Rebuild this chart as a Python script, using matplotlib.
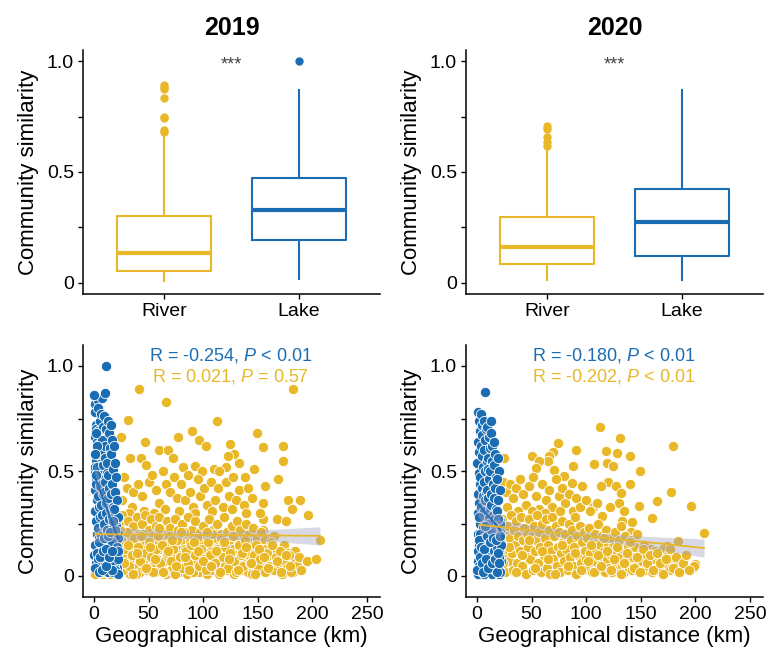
import numpy as np
import matplotlib
matplotlib.use("Agg")
import matplotlib.pyplot as plt

plt.rcParams['font.family'] = ['Liberation Sans', 'DejaVu Sans']
plt.rcParams['mathtext.fontset'] = 'custom'
plt.rcParams['mathtext.rm'] = 'Liberation Sans'
plt.rcParams['mathtext.it'] = 'Liberation Sans:italic'

BLUE = '#1B6DB3'
GOLD = '#E8B828'

years = ['2019', '2020']
groups = ['River', 'Lake']

# boxplot stats: (whislo, q1, med, q3, whishi)
river19_box = [0.01, 0.053, 0.135, 0.30, 0.676]
river19_out = [0.68, 0.69, 0.742, 0.75, 0.832, 0.875, 0.883, 0.893]
lake19_box = [0.018, 0.192, 0.33, 0.473, 0.868]
lake19_out = [1.0]
river20_box = [0.015, 0.087, 0.164, 0.297, 0.593]
river20_out = [0.616, 0.634, 0.656, 0.694, 0.706]
lake20_box = [0.015, 0.12, 0.276, 0.423, 0.871]
lake20_out = []

# scatter points, lake pairs (distance km, similarity)
lake19_x = [0.6, 1.2, 2.0, 0.8, 2.6, 1.5, 0.9, 2.3, 1.1, 2.8, 0.7, 1.9, 2.4, 1.3, 0.5, 2.1, 1.5, 2.5, 1.0, 1.7,
            3.4, 4.1, 5.2, 3.8, 4.7, 5.6, 3.2, 4.4, 5.9, 3.6, 4.9, 5.3, 3.9, 4.5, 5.7, 3.3, 4.2, 4.0,
            7.0, 6.4, 8.2, 7.5, 6.8, 8.7, 6.2, 7.8, 8.4, 6.6, 7.2, 8.9, 6.9, 7.6, 8.1, 6.3,
            11.0, 10.6, 9.4, 11.5, 10.1, 9.8, 11.8, 10.4, 9.2, 11.2, 10.8, 9.6, 11.6, 10.2, 9.9, 11.4, 10.7, 11.9,
            12.5, 13.8, 14.6, 12.2, 13.3, 14.1, 12.8, 14.9, 13.5, 12.4, 14.3, 13.0, 12.7, 14.7,
            15.4, 16.8, 15.9, 17.5, 16.2, 15.2, 17.1, 16.5, 17.8, 15.7, 16.9, 17.3, 16.0,
            18.4, 19.6, 20.5, 18.9, 21.3, 19.2, 20.1, 21.7, 18.6, 20.8, 19.9, 21.0, 20.3, 21.2, 19.4, 21.6,
            10.5, 12.0, 13.2, 14.4, 15.5, 16.3, 17.2, 17.9, 18.3, 19.0, 19.5, 20.4, 20.7, 21.4, 21.9, 22.2,
            21.8, 22.0, 16.4, 18.0, 0.4, 1.6, 3.0, 2.2, 1.2,
            1.4, 2.9, 4.6, 5.1, 6.0, 7.3, 8.5, 9.1, 10.9, 11.3, 12.9, 13.9, 15.1, 16.6, 17.6]
lake19_y = [0.82, 0.78, 0.72, 0.66, 0.60, 0.55, 0.50, 0.46, 0.41, 0.36, 0.31, 0.26, 0.20, 0.15, 0.10, 0.06, 0.70, 0.64, 0.52, 0.44,
            0.84, 0.80, 0.74, 0.69, 0.63, 0.57, 0.52, 0.47, 0.43, 0.38, 0.33, 0.28, 0.23, 0.18, 0.12, 0.08, 0.04, 0.58,
            0.85, 0.77, 0.71, 0.65, 0.58, 0.53, 0.48, 0.44, 0.39, 0.34, 0.29, 0.24, 0.19, 0.14, 0.09, 0.05,
            1.00, 0.87, 0.76, 0.70, 0.62, 0.56, 0.49, 0.45, 0.40, 0.35, 0.30, 0.25, 0.21, 0.16, 0.11, 0.07, 0.03, 0.02,
            0.74, 0.68, 0.61, 0.54, 0.48, 0.42, 0.37, 0.32, 0.27, 0.22, 0.17, 0.13, 0.08, 0.04,
            0.72, 0.65, 0.58, 0.51, 0.44, 0.39, 0.33, 0.28, 0.23, 0.18, 0.14, 0.10, 0.06,
            0.62, 0.54, 0.47, 0.40, 0.36, 0.30, 0.25, 0.20, 0.15, 0.11, 0.07, 0.04, 0.02, 0.09, 0.13, 0.18,
            0.06, 0.10, 0.02, 0.12, 0.05, 0.16, 0.02, 0.09, 0.05, 0.22, 0.03, 0.10, 0.14, 0.27, 0.08, 0.28,
            0.01, 0.12, 0.03, 0.32, 0.86, 0.68, 0.62, 0.48, 0.58,
            0.04, 0.11, 0.02, 0.16, 0.09, 0.03, 0.12, 0.18, 0.13, 0.05, 0.19, 0.09, 0.21, 0.12, 0.26]

# river pairs: sparse upper part, middle band, dense lower band
river19_x = [2, 5, 8, 11, 14, 17, 19, 4, 10, 16, 3, 7, 12, 15, 18, 6, 9, 13, 20, 1,
             41, 66, 182, 31, 113, 25, 47, 77, 90, 96, 103, 125, 149, 155, 173, 173, 128, 123, 133, 121,
             60, 68, 72, 43, 33, 48, 82, 93, 99, 110, 115, 138, 147, 157, 178, 189, 196, 181, 169, 168,
             176, 155, 155, 155, 152,
             28, 30, 36, 40, 44, 50, 53, 57, 60, 63, 66, 70, 73, 76, 80, 83, 86, 88, 91, 95,
             97, 101, 104, 107, 111, 114, 118, 121, 124, 127, 130, 133, 137, 141, 145, 35, 46, 55, 65, 78,
             93, 108, 126, 139, 26, 32,
             21, 22, 23, 24, 25, 26, 27, 28, 29, 30, 31, 32, 33, 34, 35, 36, 37, 38, 39, 40,
             41, 42, 43, 44, 45, 46, 47, 48, 49, 50, 51, 52, 53, 54, 55, 56, 57, 58, 59, 60,
             61, 62, 63, 64, 65, 66, 67, 68, 69, 70, 71, 72, 73, 74, 75, 76, 77, 78, 79, 80,
             81, 82, 83, 84, 85, 86, 87, 88, 89, 90, 91, 92, 93, 94, 95, 96, 97, 98, 99, 100,
             101, 102, 103, 104, 105, 106, 107, 108, 109, 110, 111, 112, 113, 114, 115, 116, 117, 118, 119, 120,
             121, 122, 123, 124, 125, 126, 127, 128, 129, 130, 131, 132, 133, 134, 135, 136, 137, 138, 139, 140,
             141, 142, 143, 144, 145, 146, 147, 148, 149, 150, 152, 153, 154, 156, 157, 158, 160,
             162, 163, 165, 167, 168, 170, 172, 174, 176, 178, 180, 182, 184, 186, 188, 190, 195, 203, 207,
             22.5, 24.5, 26.5, 28.5, 30.5, 32.5, 34.5, 36.5, 38.5, 40.5, 42.5, 44.5, 46.5, 48.5, 50.5, 52.5, 54.5, 56.5, 58.5, 60.5,
             62.5, 64.5, 66.5, 68.5, 70.5, 72.5, 74.5, 76.5, 78.5, 80.5, 82.5, 84.5, 86.5, 88.5, 90.5, 92.5, 94.5, 96.5, 98.5, 100.5,
             102.5, 104.5, 106.5, 108.5, 110.5, 112.5, 114.5, 116.5, 118.5, 120.5, 122.5, 124.5, 126.5, 128.5, 130.5, 132.5, 134.5, 136.5, 138.5, 140.5,
             142.5, 144.5, 146.5, 148.5, 150.5, 152.5, 154.5, 156.5, 158.5, 160.5, 162.5, 164.5, 166.5, 168.5, 170.5, 172.5, 174.5, 176.5, 178.5, 180.5,
             23.5, 27.5, 31.5, 35.5, 39.5, 43.5, 47.5, 51.5, 55.5, 59.5, 63.5, 67.5, 71.5, 75.5, 79.5, 83.5, 87.5, 91.5, 95.5, 99.5,
             103.5, 107.5, 111.5, 115.5, 119.5, 123.5, 127.5, 131.5, 135.5, 139.5, 143.5, 147.5, 151.5, 155.5, 159.5, 163.5, 167.5, 171.5, 175.5, 179.5]
river19_y = [0.02, 0.04, 0.01, 0.03, 0.06, 0.02, 0.10, 0.15, 0.20, 0.12, 0.05, 0.02, 0.08, 0.01, 0.04, 0.10, 0.06, 0.03, 0.07, 0.01,
             0.89, 0.83, 0.89, 0.745, 0.74, 0.66, 0.64, 0.66, 0.69, 0.65, 0.62, 0.63, 0.68, 0.615, 0.62, 0.55, 0.58, 0.57, 0.54, 0.52,
             0.60, 0.60, 0.56, 0.56, 0.56, 0.53, 0.52, 0.525, 0.50, 0.51, 0.50, 0.47, 0.51, 0.43, 0.36, 0.36, 0.29, 0.32, 0.46, 0.27,
             0.26, 0.35, 0.27, 0.22, 0.30,
             0.47, 0.42, 0.40, 0.44, 0.38, 0.45, 0.48, 0.41, 0.35, 0.50, 0.44, 0.40, 0.47, 0.37, 0.44, 0.36, 0.48, 0.40, 0.33, 0.46,
             0.38, 0.42, 0.34, 0.45, 0.36, 0.42, 0.33, 0.45, 0.38, 0.47, 0.36, 0.41, 0.34, 0.42, 0.37, 0.33, 0.31, 0.30, 0.32, 0.31,
             0.30, 0.31, 0.32, 0.30, 0.36, 0.30,
             0.02, 0.12, 0.25, 0.06, 0.18, 0.29, 0.10, 0.03, 0.21, 0.15, 0.26, 0.07, 0.01, 0.19, 0.12, 0.24, 0.04, 0.16, 0.28, 0.09,
             0.20, 0.02, 0.13, 0.25, 0.06, 0.17, 0.29, 0.10, 0.03, 0.22, 0.14, 0.27, 0.05, 0.19, 0.11, 0.02, 0.24, 0.08, 0.16, 0.28,
             0.04, 0.13, 0.21, 0.07, 0.18, 0.01, 0.26, 0.11, 0.15, 0.23, 0.03, 0.09, 0.19, 0.27, 0.06, 0.14, 0.22, 0.02, 0.10, 0.17,
             0.25, 0.05, 0.13, 0.20, 0.01, 0.28, 0.09, 0.16, 0.04, 0.22, 0.12, 0.18, 0.26, 0.07, 0.14, 0.02, 0.21, 0.10, 0.17, 0.24,
             0.05, 0.13, 0.20, 0.01, 0.27, 0.09, 0.15, 0.03, 0.22, 0.11, 0.18, 0.06, 0.25, 0.14, 0.02, 0.20, 0.09, 0.16, 0.28, 0.05,
             0.12, 0.21, 0.03, 0.17, 0.08, 0.24, 0.13, 0.01, 0.19, 0.10, 0.26, 0.06, 0.15, 0.22, 0.03, 0.11, 0.18, 0.07, 0.25, 0.13,
             0.02, 0.20, 0.09, 0.16, 0.05, 0.23, 0.12, 0.03, 0.18, 0.08, 0.14, 0.21, 0.04, 0.11, 0.17, 0.07, 0.13,
             0.03, 0.10, 0.19, 0.06, 0.12, 0.02, 0.09, 0.15, 0.04, 0.11, 0.07, 0.02, 0.12, 0.05, 0.09, 0.03, 0.07, 0.08, 0.17,
             0.08, 0.17, 0.03, 0.13, 0.21, 0.05, 0.10, 0.18, 0.01, 0.14, 0.07, 0.20, 0.11, 0.04, 0.16, 0.09, 0.02, 0.13, 0.19, 0.06,
             0.15, 0.02, 0.11, 0.19, 0.07, 0.13, 0.01, 0.17, 0.09, 0.04, 0.21, 0.12, 0.06, 0.15, 0.02, 0.10, 0.18, 0.05, 0.13, 0.08,
             0.03, 0.16, 0.10, 0.20, 0.06, 0.13, 0.01, 0.18, 0.09, 0.14, 0.04, 0.11, 0.19, 0.07, 0.02, 0.15, 0.10, 0.05, 0.17, 0.12,
             0.06, 0.01, 0.10, 0.15, 0.04, 0.08, 0.13, 0.02, 0.11, 0.05, 0.16, 0.03, 0.09, 0.06, 0.12, 0.01, 0.07, 0.04, 0.10, 0.02,
             0.22, 0.06, 0.15, 0.01, 0.11, 0.19, 0.04, 0.14, 0.08, 0.23, 0.02, 0.12, 0.17, 0.05, 0.21, 0.09, 0.03, 0.16, 0.12, 0.07,
             0.21, 0.05, 0.12, 0.02, 0.16, 0.08, 0.19, 0.03, 0.11, 0.14, 0.06, 0.01, 0.13, 0.09, 0.04, 0.15, 0.07, 0.02, 0.10, 0.05]

lake20_x = [0.7, 1.8, 2.6, 1.1, 2.2, 0.5, 1.5, 2.9, 0.9, 2.0, 1.3, 2.7, 0.6, 1.7, 2.4, 1.0, 2.8, 1.4,
            3.5, 4.3, 5.1, 3.9, 4.8, 5.7, 3.2, 4.5, 5.4, 3.7, 4.1, 5.9, 3.4, 4.7, 5.2, 3.8, 4.4,
            7.0, 6.5, 8.3, 7.4, 6.2, 8.8, 7.7, 6.8, 8.1, 7.1, 6.4, 8.5, 7.9, 6.6, 8.6, 7.3, 8.2, 6.9,
            9.5, 10.8, 11.6, 9.9, 10.3, 11.2, 9.3, 10.6, 11.9, 9.7, 10.9, 11.4, 10.1, 9.6, 11.7,
            13.3, 12.6, 14.2, 13.7, 12.3, 14.8, 13.0, 12.9, 14.5, 13.5, 12.2, 14.0, 13.9, 12.7,
            15.6, 16.9, 15.2, 17.4, 16.3, 15.8, 17.7, 16.1, 15.4, 17.0, 16.6, 17.9,
            19.0, 20.2, 18.5, 21.4, 19.6, 18.8, 20.7, 21.1, 19.3, 20.0, 21.6, 18.7, 20.4,
            0.8, 2.3, 4.0, 5.5, 7.6, 9.0, 10.5, 11.1, 12.5, 13.6, 14.7, 15.3, 16.7, 17.5, 18.2, 19.1, 19.8, 20.6,
            21.2, 21.9, 20.9, 18.9, 17.3, 16.0, 14.3, 3.1, 1.6, 6.1,
            0.5, 1.9, 2.7, 3.6, 4.6, 5.8, 6.7, 8.0, 8.8, 9.8, 11.8, 12.9, 13.9, 15.0, 16.3, 17.8, 18.6, 19.5,
            20.3, 21.5, 10.2, 7.2]
lake20_y = [0.78, 0.74, 0.69, 0.64, 0.59, 0.54, 0.49, 0.44, 0.39, 0.35, 0.30, 0.25, 0.20, 0.15, 0.10, 0.07, 0.04, 0.01,
            0.77, 0.72, 0.67, 0.62, 0.57, 0.52, 0.47, 0.42, 0.38, 0.33, 0.28, 0.23, 0.18, 0.13, 0.09, 0.05, 0.02,
            0.875, 0.74, 0.70, 0.65, 0.60, 0.55, 0.50, 0.45, 0.40, 0.36, 0.31, 0.26, 0.21, 0.16, 0.11, 0.07, 0.03, 0.01,
            0.71, 0.66, 0.61, 0.56, 0.51, 0.46, 0.41, 0.37, 0.32, 0.27, 0.22, 0.17, 0.12, 0.08, 0.03,
            0.74, 0.68, 0.62, 0.55, 0.50, 0.44, 0.39, 0.34, 0.29, 0.24, 0.19, 0.14, 0.09, 0.04,
            0.64, 0.58, 0.53, 0.47, 0.42, 0.37, 0.32, 0.27, 0.22, 0.16, 0.11, 0.06,
            0.56, 0.50, 0.46, 0.41, 0.36, 0.31, 0.26, 0.21, 0.16, 0.12, 0.07, 0.03, 0.01,
            0.12, 0.05, 0.09, 0.14, 0.04, 0.10, 0.15, 0.05, 0.11, 0.01, 0.07, 0.12, 0.03, 0.09, 0.14, 0.05, 0.20, 0.09,
            0.02, 0.15, 0.25, 0.27, 0.22, 0.19, 0.24, 0.20, 0.28, 0.18,
            0.03, 0.17, 0.09, 0.14, 0.06, 0.02, 0.13, 0.08, 0.19, 0.04, 0.16, 0.22, 0.06, 0.18, 0.08, 0.17, 0.02, 0.11,
            0.06, 0.19, 0.25, 0.24]

river20_x = [3, 6, 9, 12, 15, 18, 20, 5, 13, 17, 2, 7, 11, 16, 19,
             113, 131, 74, 180, 91, 118, 128, 140, 70, 50, 66, 65, 57, 107, 119, 125, 88, 71, 149, 54,
             25, 120, 127, 140, 114, 80, 87, 96, 178, 132, 196, 165, 148, 130, 96, 106, 115, 160, 142, 133,
             208, 97, 141, 184, 174, 188, 200, 166, 176, 184, 198,
             24, 27, 30, 33, 36, 39, 42, 45, 48, 51, 54, 57, 60, 63, 66, 69, 72, 75, 78, 81,
             84, 88, 91, 94, 100, 104, 28, 38, 50, 62, 76, 110, 122, 135,
             21, 22, 23, 24, 25, 26, 27, 28, 29, 30, 31, 32, 33, 34, 35, 36, 37, 38, 39, 40,
             41, 42, 43, 44, 45, 46, 47, 48, 49, 50, 51, 52, 53, 54, 55, 56, 57, 58, 59, 60,
             61, 62, 63, 64, 65, 66, 67, 68, 69, 70, 71, 72, 73, 74, 75, 76, 77, 78, 79, 80,
             81, 82, 83, 84, 85, 86, 87, 88, 89, 90, 91, 92, 93, 94, 95, 96, 97, 98, 99, 100,
             101, 102, 103, 104, 105, 106, 107, 108, 109, 110, 111, 112, 113, 114, 115, 116, 117, 118, 119, 120,
             121, 122, 123, 124, 125, 126, 127, 128, 129, 130, 131, 132, 133, 134, 135, 136, 137, 138, 139, 140,
             141, 142, 143, 145, 146, 147, 148, 150, 151, 153, 154, 156, 157, 159, 160,
             162, 163, 165, 167, 169, 170, 172, 175, 177, 179, 181, 186, 190, 195, 199,
             23.5, 29.5, 35.5, 41.5, 47.5, 53.5, 59.5, 65.5, 71.5, 77.5, 83.5, 89.5, 95.5,
             101.5, 104.5, 107.5, 110.5, 113.5, 116.5, 119.5, 122.5, 125.5, 128.5, 131.5, 134.5, 137.5, 140.5,
             143.5, 146.5, 149.5, 152.5, 155.5, 158.5,
             161.5, 164.5, 167.5, 170.5, 173.5, 176.5, 179.5, 182.5, 185.5, 188.5, 191.5, 194.5]
river20_y = [0.03, 0.08, 0.02, 0.05, 0.10, 0.04, 0.15, 0.22, 0.25, 0.30, 0.01, 0.05, 0.12, 0.02, 0.08,
             0.708, 0.657, 0.633, 0.618, 0.599, 0.597, 0.586, 0.573, 0.59, 0.57, 0.57, 0.547, 0.55, 0.534, 0.54, 0.523, 0.523, 0.507, 0.50, 0.515,
             0.56, 0.45, 0.43, 0.436, 0.428, 0.475, 0.444, 0.428, 0.40, 0.397, 0.333, 0.357, 0.333, 0.346, 0.346, 0.33, 0.286, 0.278, 0.257, 0.262,
             0.207, 0.226, 0.21, 0.167, 0.144, 0.08, 0.057, 0.08, 0.046, 0.02, 0.038,
             0.45, 0.40, 0.44, 0.37, 0.42, 0.46, 0.39, 0.34, 0.43, 0.47, 0.38, 0.32, 0.44, 0.36, 0.41, 0.33, 0.46, 0.38, 0.42, 0.35,
             0.39, 0.31, 0.37, 0.33, 0.36, 0.31, 0.33, 0.31, 0.31, 0.30, 0.31, 0.35, 0.33, 0.31,
             0.04, 0.16, 0.27, 0.09, 0.21, 0.02, 0.13, 0.24, 0.07, 0.18, 0.29, 0.11, 0.03, 0.22, 0.15, 0.26, 0.06, 0.19, 0.12, 0.28,
             0.05, 0.17, 0.23, 0.10, 0.01, 0.20, 0.14, 0.27, 0.08, 0.19, 0.03, 0.24, 0.12, 0.17, 0.29, 0.06, 0.21, 0.14, 0.02, 0.25,
             0.10, 0.18, 0.27, 0.04, 0.15, 0.22, 0.01, 0.12, 0.28, 0.08, 0.19, 0.24, 0.05, 0.14, 0.21, 0.02, 0.11, 0.26, 0.16, 0.07,
             0.20, 0.13, 0.03, 0.25, 0.09, 0.17, 0.22, 0.05, 0.14, 0.28, 0.01, 0.19, 0.10, 0.24, 0.06, 0.16, 0.03, 0.21, 0.12, 0.08,
             0.18, 0.04, 0.23, 0.11, 0.02, 0.16, 0.07, 0.20, 0.13, 0.03, 0.25, 0.09, 0.15, 0.05, 0.19, 0.12, 0.02, 0.22, 0.08, 0.15,
             0.04, 0.18, 0.10, 0.02, 0.14, 0.21, 0.06, 0.12, 0.03, 0.17, 0.09, 0.24, 0.05, 0.13, 0.02, 0.19, 0.08, 0.14, 0.04, 0.11,
             0.17, 0.03, 0.09, 0.14, 0.05, 0.20, 0.02, 0.11, 0.07, 0.15, 0.03, 0.10, 0.05, 0.13, 0.02,
             0.08, 0.12, 0.04, 0.09, 0.02, 0.13, 0.06, 0.10, 0.03, 0.08, 0.05, 0.02, 0.04, 0.03, 0.05,
             0.06, 0.14, 0.02, 0.10, 0.17, 0.04, 0.12, 0.08, 0.01, 0.15, 0.05, 0.11, 0.03,
             0.07, 0.15, 0.02, 0.10, 0.05, 0.18, 0.12, 0.03, 0.08, 0.14, 0.01, 0.06, 0.11, 0.16,
             0.04, 0.09, 0.02, 0.13, 0.06, 0.10,
             0.03, 0.11, 0.06, 0.01, 0.08, 0.13, 0.04, 0.09, 0.02, 0.06, 0.10, 0.03]

stats_text = {
    '2019': ['R = -0.254, $\\mathit{P}$ < 0.01', 'R = 0.021, $\\mathit{P}$ = 0.57'],
    '2020': ['R = -0.180, $\\mathit{P}$ < 0.01', 'R = -0.202, $\\mathit{P}$ < 0.01'],
}

box_data = {
    '2019': [(river19_box, river19_out), (lake19_box, lake19_out)],
    '2020': [(river20_box, river20_out), (lake20_box, lake20_out)],
}
scatter_data = {
    '2019': [(river19_x, river19_y), (lake19_x, lake19_y)],
    '2020': [(river20_x, river20_y), (lake20_x, lake20_y)],
}
colors = [GOLD, BLUE]


def style_axes(ax):
    for s in ['top', 'right']:
        ax.spines[s].set_visible(False)
    for s in ['left', 'bottom']:
        ax.spines[s].set_linewidth(1.1)
    ax.tick_params(which='both', direction='out', length=3.5, width=1.0,
                   labelsize=14, colors='black', pad=3)
    ax.set_yticks([0, 0.5, 1.0])
    ax.set_yticklabels(['0', '0.5', '1.0'])
    ax.set_yticks([0.25, 0.75], minor=True)


def fit_line(x, y):
    x = np.asarray(x, float)
    y = np.asarray(y, float)
    b, a = np.polyfit(x, y, 1)
    xs = np.linspace(x.min(), x.max(), 80)
    n = len(x)
    resid = y - (a + b * x)
    s = np.sqrt(np.sum(resid ** 2) / (n - 2))
    se = s * np.sqrt(1.0 / n + (xs - x.mean()) ** 2 / np.sum((x - x.mean()) ** 2))
    fit = a + b * xs
    return xs, fit, fit - 1.97 * se, fit + 1.97 * se


fig = plt.figure(figsize=(7.66, 6.54), dpi=100)
lefts = [83 / 766, 466 / 766]
w = 297 / 766

for i, yr in enumerate(years):
    # top: boxplots
    ax = fig.add_axes([lefts[i], 1 - 294 / 654, w, 244 / 654])
    for j, (bx, out) in enumerate(box_data[yr]):
        st = [dict(whislo=bx[0], q1=bx[1], med=bx[2], q3=bx[3], whishi=bx[4], fliers=out)]
        c = colors[j]
        ax.bxp(st, positions=[j + 1], widths=0.7, showcaps=False,
               boxprops=dict(color=c, lw=1.5),
               whiskerprops=dict(color=c, lw=1.5),
               medianprops=dict(color=c, lw=3.0, solid_capstyle='butt'),
               flierprops=dict(marker='o', markerfacecolor=c, markeredgecolor=c, markersize=5))
    ax.set_xlim(0.4, 2.6)
    ax.set_ylim(-0.05, 1.05)
    style_axes(ax)
    ax.set_xticks([1, 2])
    ax.set_xticklabels(groups)
    ax.tick_params(axis='x', labelsize=14, pad=3)
    ax.set_ylabel('Community similarity', fontsize=16, labelpad=6)
    ax.text(1.5, 0.96, '***', ha='center', va='baseline', fontsize=13, color='#444444')
    ax.set_title(yr, fontsize=18, fontweight='bold', pad=11)

    # bottom: distance decay
    ax2 = fig.add_axes([lefts[i], 1 - 597 / 654, w, 252 / 654])
    (rx, ry), (lx, ly) = scatter_data[yr]
    ax2.scatter(rx, ry, s=55, color=GOLD, edgecolors='white', linewidths=0.6, zorder=2)
    ax2.scatter(lx, ly, s=55, color=BLUE, edgecolors='white', linewidths=0.6, zorder=3)
    for (sx, sy), c in zip([(lx, ly), (rx, ry)], [BLUE, GOLD]):
        xs, fit, lo, hi = fit_line(sx, sy)
        ax2.fill_between(xs, lo, hi, color='#a0a0c0', alpha=0.4, lw=0, zorder=4)
        ax2.plot(xs, fit, color=c, lw=1.3, zorder=5)
    ax2.set_xlim(-10, 262)
    ax2.set_ylim(-0.1, 1.1)
    style_axes(ax2)
    ax2.set_xticks([0, 50, 100, 150, 200, 250])
    ax2.set_ylabel('Community similarity', fontsize=16, labelpad=6)
    ax2.set_xlabel('Geographical distance (km)', fontsize=16, labelpad=2)
    ax2.text(125, 1.052, stats_text[yr][0], ha='center', va='center', fontsize=13, color=BLUE)
    ax2.text(125, 0.949, stats_text[yr][1], ha='center', va='center', fontsize=13, color=GOLD)

fig.savefig('out.png', dpi=100)
